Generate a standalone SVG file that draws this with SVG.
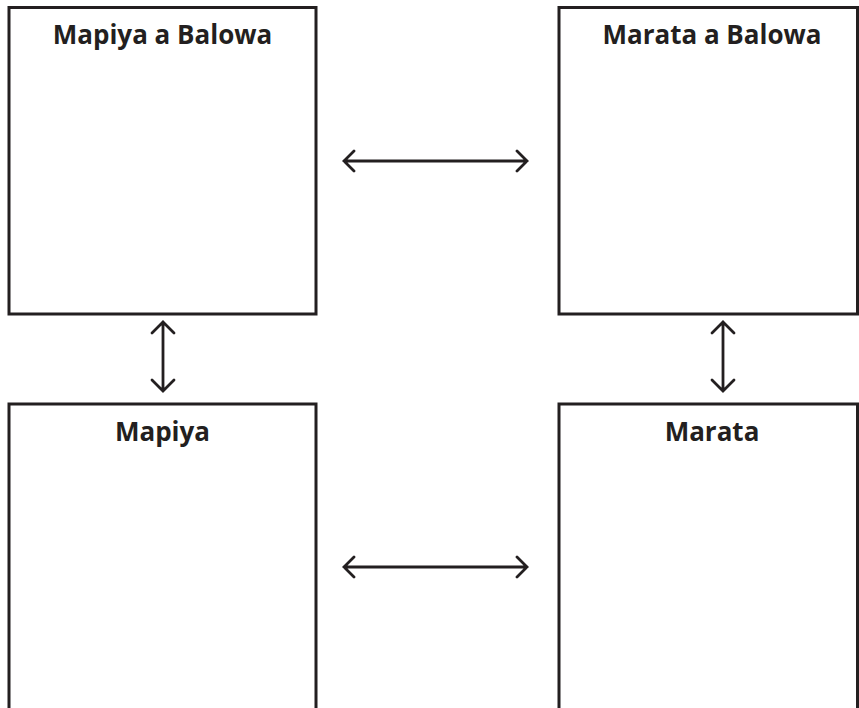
<svg xmlns="http://www.w3.org/2000/svg" width="859" height="708" viewBox="0 0 859 708">
<defs>
<style>
.box{fill:#fff;stroke:#231f20;stroke-width:3}
.title{font-family:"Open Sans","Liberation Sans",sans-serif;font-weight:700;font-size:26px;fill:#231f20;text-anchor:middle}
.conn{fill:none;stroke:#231f20;stroke-width:2.8;stroke-linecap:round;stroke-linejoin:miter}
</style>
</defs>
<rect width="859" height="708" fill="#fff"/>
<g id="node-mapiya-a-balowa">
<rect class="box" x="9" y="7.5" width="307" height="306.5"/>
<text class="title" x="162.5" y="43.5">Mapiya a Balowa</text>
</g>
<g id="node-marata-a-balowa">
<rect class="box" x="559" y="7.5" width="298.5" height="306.5"/>
<text class="title" x="712" y="43.5">Marata a Balowa</text>
</g>
<g id="node-mapiya">
<rect class="box" x="9" y="404" width="307" height="320"/>
<text class="title" x="162.5" y="440.5">Mapiya</text>
</g>
<g id="node-marata">
<rect class="box" x="559" y="404" width="298.5" height="320"/>
<text class="title" x="712" y="440.5">Marata</text>
</g>
<g id="connectors">
<path class="conn" d="M344 161H527M354 151L344 161L354 171M517 151L527 161L517 171"/>
<path class="conn" d="M344 567H527M354 557L344 567L354 577M517 557L527 567L517 577"/>
<path class="conn" d="M163 322V391M152 333L163 322L174 333M152 380L163 391L174 380"/>
<path class="conn" d="M723 322V391M712 333L723 322L734 333M712 380L723 391L734 380"/>
</g>
</svg>
